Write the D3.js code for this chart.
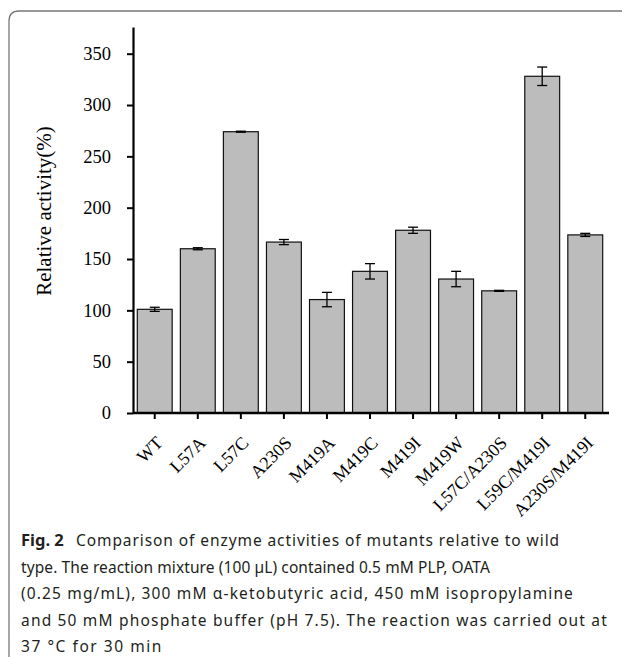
<!DOCTYPE html>
<html>
<head>
<meta charset="utf-8">
<script src="https://cdn.jsdelivr.net/npm/d3@7"></script>
<style>
  body { margin: 0; background: #fff; }
  svg { display: block; }
</style>
</head>
<body>
<div id="chart"></div>
<script>
// data
const mutants = ["WT", "L57A", "L57C", "A230S", "M419A", "M419C", "M419I", "M419W", "L57C/A230S", "L59C/M419I", "A230S/M419I"];
const activity = [101, 160, 274, 166.5, 110.5, 138, 178, 130.5, 119, 328, 173.5];
const errors = [2, 1, 0.5, 2.5, 7, 7.5, 3, 7.5, 0.5, 9, 1.5];
const yTicks = [0, 50, 100, 150, 200, 250, 300, 350];
const captionLines = [
  "Comparison of enzyme activities of mutants relative to wild",
  "type. The reaction mixture (100 \u00b5L) contained 0.5 mM PLP, OATA",
  "(0.25 mg/mL), 300 mM \u03b1-ketobutyric acid, 450 mM isopropylamine",
  "and 50 mM phosphate buffer (pH 7.5). The reaction was carried out at",
  "37 \u00b0C for 30 min"
];
const captionEnds = [560, 490, 574, 608, 163];

const width = 622, height = 657;
const plot = { left: 133, right: 609, top: 27, bottom: 413 };
const serif = "'Liberation Serif', 'Times New Roman', serif";

const svg = d3.select("#chart").append("svg")
  .attr("width", width)
  .attr("height", height);

// frame round the figure (only top and left visible)
svg.append("path")
  .attr("d", "M9,660 L9,21 Q9,11 19,11 L625,11")
  .attr("fill", "none")
  .attr("stroke", "#777")
  .attr("stroke-width", 1.3);

const x = d3.scaleBand()
  .domain(mutants)
  .range([plot.left, plot.right - 2])
  .paddingInner(0.19)
  .paddingOuter(0.1);

const y = d3.scaleLinear()
  .domain([0, 376])
  .range([plot.bottom, plot.top]);

// bars
svg.selectAll("rect.bar")
  .data(mutants)
  .enter()
  .append("rect")
  .attr("class", "bar")
  .attr("x", d => x(d))
  .attr("y", (d, i) => y(activity[i]))
  .attr("width", x.bandwidth())
  .attr("height", (d, i) => y(0) - y(activity[i]))
  .attr("fill", "#bcbcbc")
  .attr("stroke", "#111")
  .attr("stroke-width", 1.2);

// error bars
const cap = 5;
const eb = svg.append("g").attr("stroke", "#000").attr("stroke-width", 1.3);
mutants.forEach((m, i) => {
  const cx = x(m) + x.bandwidth() / 2;
  const hi = y(activity[i] + errors[i]);
  const lo = y(activity[i] - errors[i]);
  eb.append("line").attr("x1", cx).attr("x2", cx).attr("y1", hi).attr("y2", lo);
  eb.append("line").attr("x1", cx - cap).attr("x2", cx + cap).attr("y1", hi).attr("y2", hi);
  eb.append("line").attr("x1", cx - cap).attr("x2", cx + cap).attr("y1", lo).attr("y2", lo);
});

// y axis
const yAxis = svg.append("g")
  .attr("transform", "translate(" + plot.left + ",0)")
  .call(d3.axisLeft(y).tickValues(yTicks).tickSize(6).tickPadding(16).tickSizeOuter(0));
yAxis.select(".domain").attr("stroke-width", 2.2);
yAxis.selectAll(".tick line").attr("stroke-width", 2);
yAxis.selectAll("text")
  .attr("font-family", serif)
  .attr("font-size", 18.5)
  .attr("fill", "#000");

// x axis
const xAxis = svg.append("g")
  .attr("transform", "translate(0," + plot.bottom + ")")
  .call(d3.axisBottom(x).tickSize(6).tickSizeOuter(0));
xAxis.select(".domain").attr("d", "M" + plot.left + ",0H" + plot.right).attr("stroke-width", 2.4);
xAxis.selectAll(".tick line").attr("stroke-width", 2);
xAxis.selectAll("text")
  .attr("font-family", serif)
  .attr("font-size", 18)
  .attr("fill", "#000")
  .attr("text-anchor", "end")
  .attr("y", 0)
  .attr("dy", 0)
  .attr("transform", "translate(9,31) rotate(-45)");

// y axis title
svg.append("text")
  .attr("transform", "translate(51,211) rotate(-90)")
  .attr("text-anchor", "middle")
  .attr("font-family", serif)
  .attr("font-size", 21)
  .text("Relative activity(%)");

// caption
const capX = 21;
const firstX = 76;
const capG = svg.append("g")
  .attr("font-family", "'Noto Sans', 'Open Sans', sans-serif")
  .attr("font-size", 15.5)
  .attr("fill", "#231f20");
captionLines.forEach((line, i) => {
  const t = capG.append("text")
    .attr("x", capX)
    .attr("y", 546 + i * 26.5);
  let span = t;
  if (i === 0) {
    t.append("tspan").attr("font-weight", "bold").attr("font-size", 16.5).text("Fig. 2");
    span = t.append("tspan").attr("x", firstX).text(line);
  } else {
    t.text(line);
  }
  // squeeze / spread letters so each line ends where it does in the figure
  const start = i === 0 ? firstX : capX;
  const w = span.node().getComputedTextLength();
  span.attr("letter-spacing", ((captionEnds[i] - start - w) / line.length).toFixed(3));
});
</script>
</body>
</html>
